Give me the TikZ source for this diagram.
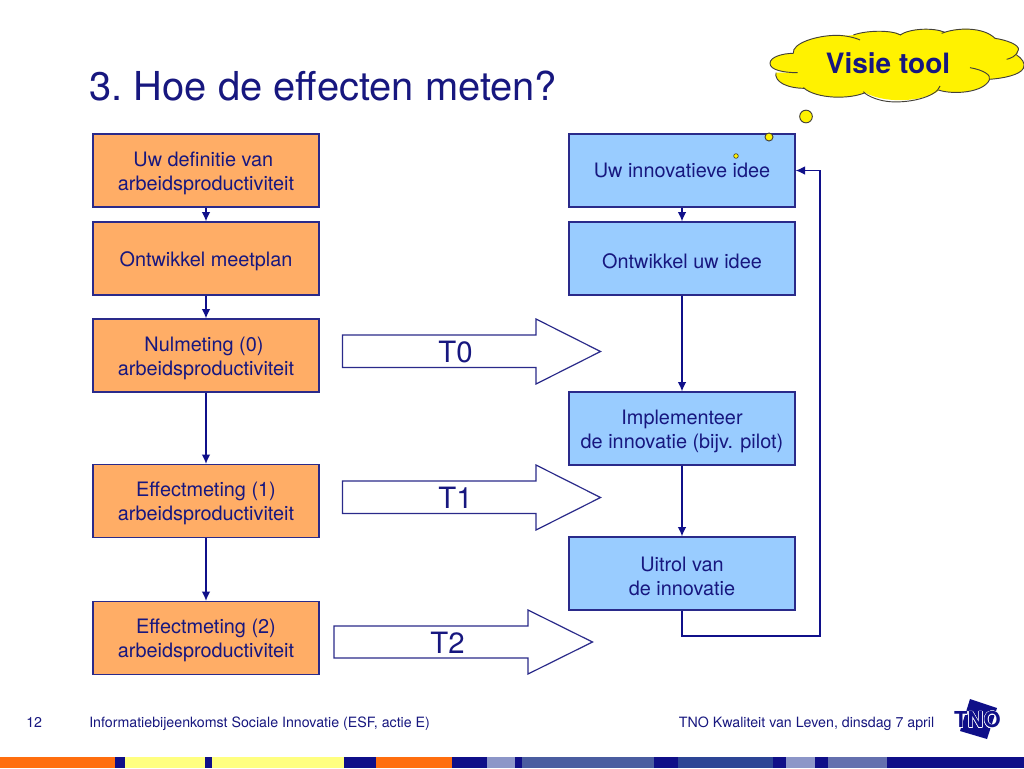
\documentclass[tikz,border=0pt]{standalone}
\usepackage{fontspec}
\setmainfont{TeX Gyre Heros}
\usepackage[copies]{contour}
\contourlength{0.3pt}
\usetikzlibrary{arrows.meta}
\definecolor{ink}{HTML}{17177F}
\definecolor{edge}{HTML}{2A2A8A}
\definecolor{wire}{HTML}{10108A}
\definecolor{boxorange}{HTML}{FFAD66}
\definecolor{boxblue}{HTML}{99CCFF}
\definecolor{stripnavy}{HTML}{0F0F88}
\definecolor{striporange}{HTML}{FF6E0F}
\definecolor{stripyellow}{HTML}{FFFF80}
\definecolor{stripa}{HTML}{4A5DA0}
\definecolor{stripb}{HTML}{2C4595}
\definecolor{stripc}{HTML}{8C96C8}
\definecolor{stripd}{HTML}{6470AE}
\tikzset{
  flowbox/.style={draw=edge,line width=1pt,minimum width=169.5pt,minimum height=54.75pt,inner sep=0pt,align=center,
    text=ink,font=\fontsize{14.9}{18}\selectfont},
  orangebox/.style={flowbox,fill=boxorange},
  bluebox/.style={flowbox,fill=boxblue},
  link/.style={draw=wire,line width=1pt,-{Latex[length=7pt,width=6.5pt]}},
  blockarrow/.style={draw=edge,line width=0.9pt,fill=white,line join=miter},
  blocklabel/.style={text=ink,font=\fontsize{22}{26}\selectfont,inner sep=0pt},
  footer/.style={text=ink,font=\fontsize{10.65}{12}\selectfont,inner sep=0pt},
  bubble/.style={draw=black!85!yellow,line width=0.7pt,fill=yellow},
  lobe/.style={draw=black!85!yellow,line width=0.7pt},
}
\newcommand{\stripseg}[3]{\fill[#3] (#1,757) rectangle (#2,768);}
\newcommand{\tl}[1]{\raisebox{-1.9pt}[\height][\depth]{#1}}
\begin{document}
\begin{tikzpicture}[x=0.75pt,y=-0.75pt]
\useasboundingbox (0,0) rectangle (1024,768);
\fill[white] (0,0) rectangle (1024,768);
% title
\node[anchor=base west,inner sep=0pt,text=ink,font=\fontsize{29.9}{34}\selectfont] (title) at (89,100) {3. \kern-2.5pt Hoe de effecten meten?};
% left column
\node[orangebox] (l1) at (206,170.5) {\tl{Uw definitie van\hspace{4pt}}\\\tl{arbeidsproductiviteit}};
\node[orangebox] (l2) at (206,258.5) {\tl{Ontwikkel meetplan}};
\node[orangebox] (l3) at (206,355.5) {\tl{Nulmeting (0)\hspace{3pt}}\\\tl{arbeidsproductiviteit}};
\node[orangebox] (l4) at (206,501) {\tl{Effectmeting (1)}\\\tl{arbeidsproductiviteit}};
\node[orangebox] (l5) at (206,638) {\tl{Effectmeting (2)}\\\tl{arbeidsproductiviteit}};
% right column
\node[bluebox] (r1) at (682,170.5) {Uw innovatieve idee};
\node[bluebox] (r2) at (682,258.5) {\tl{Ontwikkel uw idee}};
\node[bluebox] (r3) at (682,428.5) {\tl{Implementeer}\\\tl{de innovatie (bijv. pilot)}};
\node[bluebox] (r4) at (682,573.5) {\tl{Uitrol van}\\\tl{de innovatie}};
% connectors
\draw[link] (l1) -- (l2);
\draw[link] (l2) -- (l3);
\draw[link] (l3) -- (l4);
\draw[link] (l4) -- (l5);
\draw[link] (r1) -- (r2);
\draw[link] (r2) -- (r3);
\draw[link] (r3) -- (r4);
\coordinate (ret1) at (682,636);
\coordinate (ret2) at (820,636);
\coordinate (ret3) at (820,170.5);
\draw[link,line join=miter] (r4.south) -- (ret1) -- (ret2) -- (ret3) -- (r1.east);
% block arrows
\draw[blockarrow] (342.5,335) -- (536,335) -- (536,319) -- (600.5,351.5) -- (536,384) -- (536,367.5) -- (342.5,367.5) -- cycle;
\node[blocklabel] (t0) at (455.5,352) {T0};
\draw[blockarrow] (342.5,481) -- (536,481) -- (536,465) -- (600.5,497.5) -- (536,530) -- (536,513.5) -- (342.5,513.5) -- cycle;
\node[blocklabel] (t1) at (455.5,498) {T1};
\draw[blockarrow] (334,626) -- (528,626) -- (528,610) -- (592.5,642) -- (528,674) -- (528,658) -- (334,658) -- cycle;
\node[blocklabel] (t2) at (447.5,643) {T2};
% cloud, coordinates in 3x crop units
\begin{scope}[shift={(750,0)},x=0.25pt,y=-0.25pt]
\fill[yellow] (143,218) .. controls (100,218) and (60,210) .. (60,190)
  .. controls (60,170) and (100,160) .. (130,160)
  .. controls (125,130) and (200,106) .. (260,106)
  .. controls (280,106) and (300,108) .. (310,105)
  .. controls (345,92) and (420,88) .. (452,103)
  .. controls (480,85) and (550,82) .. (585,97)
  .. controls (620,82) and (700,80) .. (735,115)
  .. controls (770,120) and (810,135) .. (805,150)
  .. controls (805,160) and (800,165) .. (800,165)
  .. controls (815,175) and (828,190) .. (820,205)
  .. controls (810,225) and (760,235) .. (718,238)
  .. controls (700,278) and (610,285) .. (568,270)
  .. controls (540,298) and (420,318) .. (345,278)
  .. controls (300,298) and (200,298) .. (163,265)
  .. controls (110,265) and (72,245) .. (78,218) -- cycle;
\draw[lobe] (143,218) .. controls (100,218) and (60,210) .. (60,190)
  .. controls (60,170) and (100,160) .. (130,160);
\draw[lobe] (130,160) .. controls (125,130) and (200,106) .. (260,106)
  .. controls (290,106) and (320,115) .. (330,120);
\draw[lobe] (310,105) .. controls (345,92) and (420,88) .. (452,105);
\draw[lobe] (450,105) .. controls (480,85) and (550,82) .. (585,97);
\draw[lobe] (575,100) .. controls (620,82) and (700,80) .. (735,115);
\draw[lobe] (735,115) .. controls (770,120) and (810,135) .. (805,150)
  .. controls (800,170) and (780,175) .. (770,178);
\draw[lobe] (800,165) .. controls (815,175) and (828,190) .. (820,205)
  .. controls (810,225) and (760,235) .. (718,238);
\draw[lobe] (660,203) .. controls (700,210) and (725,225) .. (718,240)
  .. controls (700,278) and (610,285) .. (565,270);
\draw[lobe] (570,258) .. controls (560,292) and (470,312) .. (410,304)
  .. controls (380,300) and (350,287) .. (340,275);
\draw[lobe] (345,278) .. controls (300,298) and (200,298) .. (160,263);
\draw[lobe] (165,265) .. controls (110,265) and (72,245) .. (78,218);
\end{scope}
\node[inner sep=0pt,text=ink,font=\fontsize{21}{24}\bfseries\selectfont] (visie) at (888,63) {Visie tool};
\node[bubble,circle,inner sep=0pt,minimum size=9.5pt] (b1) at (806,116.5) {};
\node[bubble,circle,inner sep=0pt,minimum size=6pt] (b2) at (769,137) {};
\node[bubble,circle,inner sep=0pt,minimum size=3.5pt,line width=0.5pt] (b3) at (736,156) {};
% footer
\node[footer,anchor=base west] (page) at (26,727) {12};
\node[footer,anchor=base west] (ftl) at (89,727) {Informatiebijeenkomst Sociale Innovatie (ESF, actie E)};
\node[footer,anchor=base east] (ftr) at (934.5,727) {TNO Kwaliteit van Leven, dinsdag 7 april};
% logo
\fill[stripnavy] (970,699) -- (997,708) -- (987,739) -- (960,731) -- cycle;
\node[inner sep=0pt,text=stripnavy,font=\fontsize{16.5}{16.5}\bfseries\selectfont] (logo) at (977.5,720) {\contour{white}{TNO}};
% bottom strip
\stripseg{0}{115}{striporange}
\stripseg{115}{125}{stripnavy}
\stripseg{125}{205}{stripyellow}
\stripseg{205}{212}{stripnavy}
\stripseg{212}{344}{stripyellow}
\stripseg{344}{376}{stripnavy}
\stripseg{376}{452}{striporange}
\stripseg{452}{487}{stripnavy}
\stripseg{487}{515}{stripc}
\stripseg{515}{522}{stripnavy}
\stripseg{522}{654}{stripa}
\stripseg{654}{678}{stripnavy}
\stripseg{678}{773}{stripb}
\stripseg{773}{786}{stripnavy}
\stripseg{786}{815}{stripc}
\stripseg{815}{828}{stripnavy}
\stripseg{828}{887}{stripd}
\stripseg{887}{1024}{stripnavy}
\end{tikzpicture}
\end{document}
